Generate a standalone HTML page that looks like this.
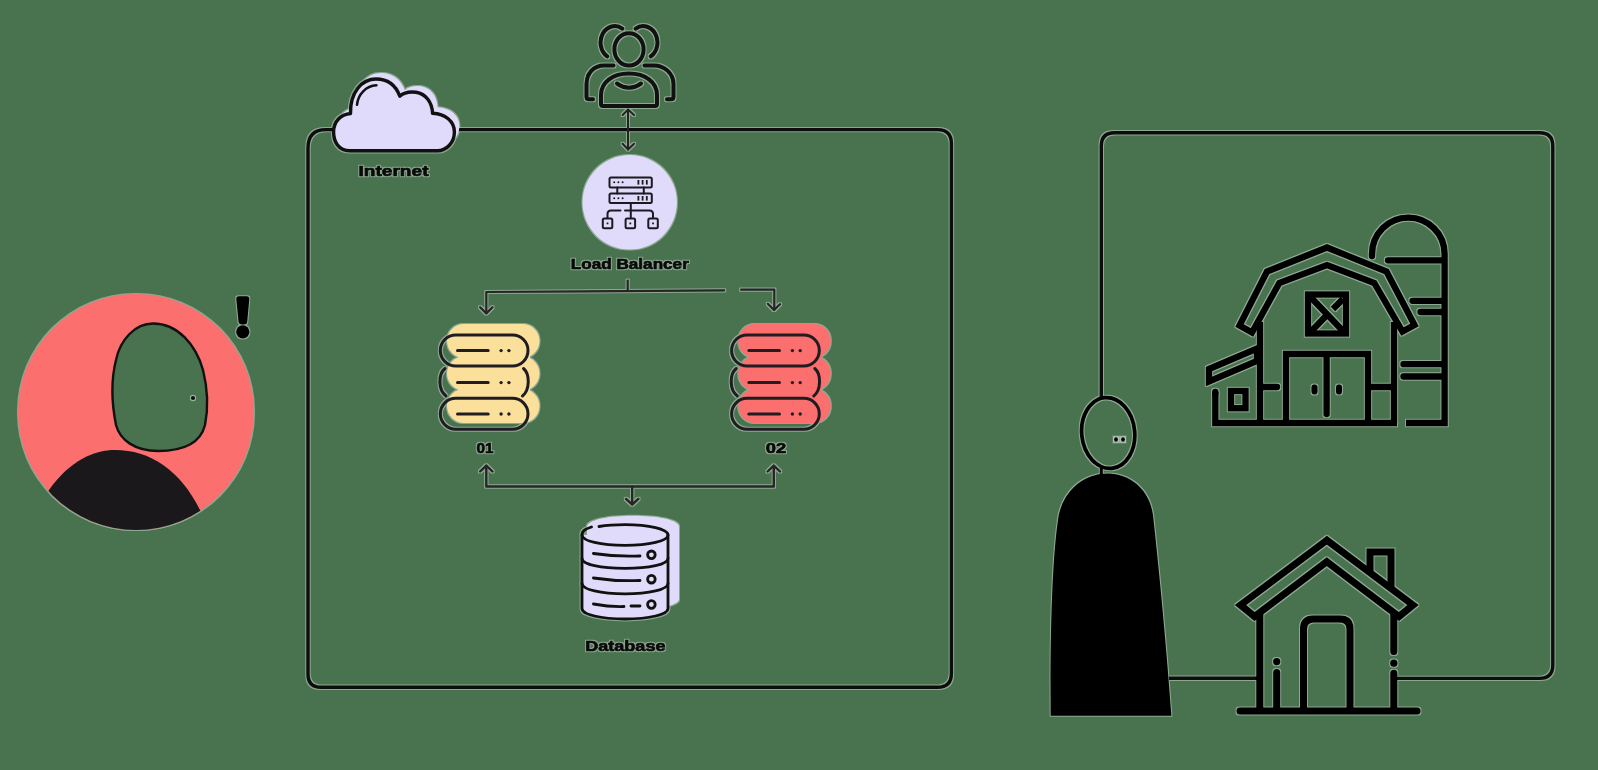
<!DOCTYPE html>
<html><head><meta charset="utf-8">
<style>
html,body{margin:0;padding:0;background:#48734e;width:1598px;height:770px;overflow:hidden}
svg{display:block}
text{font-family:"Liberation Sans",sans-serif;font-weight:bold;fill:#0a0a0a;stroke:#0a0a0a;stroke-width:0.65px}
</style></head><body>
<svg width="1598" height="770" viewBox="0 0 1598 770">
<defs><clipPath id="avc"><circle cx="136" cy="412" r="118"/></clipPath>
<filter id="h" x="0" y="0" width="1598" height="770" filterUnits="userSpaceOnUse" color-interpolation-filters="sRGB">
<feMorphology in="SourceAlpha" operator="dilate" radius="1" result="d"/>
<feFlood flood-color="#ffffff" flood-opacity="0.38" result="f"/>
<feComposite in="f" in2="d" operator="in" result="w"/>
<feMerge><feMergeNode in="w"/><feMergeNode in="SourceGraphic"/></feMerge>
</filter></defs>
<g filter="url(#h)">

<!-- ===== Left avatar ===== -->
<circle cx="136" cy="412" r="118" fill="#fb6f6e"/>
<path clip-path="url(#avc)" d="M20 540 L49 490 C70 460 95 450 115 450 C150 450 180 470 200 510 L215 540 Z" fill="#1a181b"/>
<path d="M153 323.5 C178 323.5 196 345 203 370 C208 390 208 410 205 425 C200 445 180 451 158 451 C135 451 120 440 116 425 C112 405 111 380 116 360 C120 340 135 323.5 153 323.5 Z" fill="#48734e" stroke="#111" stroke-width="2.4"/>
<circle cx="193" cy="398" r="3.2" fill="#fff" opacity="0.45"/><circle cx="193" cy="398" r="2.1" fill="#111"/>
<path d="M236.3 299 Q236.3 296.3 239 296.3 L246.6 296.3 Q249.3 296.3 249.3 299 L247.2 322 Q247 324.5 243 324.5 Q239 324.5 238.6 322 Z" fill="#000"/>
<circle cx="242.8" cy="331.8" r="6.6" fill="#000"/>

<!-- ===== Main frame ===== -->
<path d="M308 148 Q308 129.6 326 129.6 L937.4 129.6 Q951.4 129.6 951.4 143.6 L951.4 673.5 Q951.4 687.3 937.4 687.3 L321 687.3 Q308 687.3 308 674 Z" fill="none" stroke="#0d0d0d" stroke-width="3.4"/>

<!-- ===== Cloud ===== -->
<g transform="translate(5,-6)" fill="#e0dbfb">
<path d="M350 150.7 C338 150.7 333.6 141 333.6 132 C333.6 121 341 114.5 350.5 113.5 C350 92 362 79 376 79 C388 79 396 86 399.8 96.2 C404 92.5 410 91.5 416 92.3 C426 94 432 102 432.6 113.3 C445 114 454.4 121 454.4 132 C454.4 143 446 150.7 437.3 150.7 Z"/>
</g>
<path d="M350 150.7 C338 150.7 333.6 141 333.6 132 C333.6 121 341 114.5 350.5 113.5 C350 92 362 79 376 79 C388 79 396 86 399.8 96.2 C404 92.5 410 91.5 416 92.3 C426 94 432 102 432.6 113.3 C445 114 454.4 121 454.4 132 C454.4 143 446 150.7 437.3 150.7 Z" fill="#e0dbfb" stroke="#111" stroke-width="3.4" stroke-linejoin="round"/>
<path d="M357 104.8 C358 94 366 86 376.4 85.3" fill="none" stroke="#111" stroke-width="2.5" stroke-linecap="round"/>
<text x="358.5" y="175.7" font-size="15.5" textLength="70" lengthAdjust="spacingAndGlyphs">Internet</text>

<!-- ===== Users icon ===== -->
<g fill="none" stroke="#111" stroke-width="4" stroke-linecap="round" stroke-linejoin="round">
<ellipse cx="629" cy="49.4" rx="14.6" ry="16.2"/>
<path d="M601 104 L601 95 C601 82 613 73.5 629 73.5 C645 73.5 657 82 657 95 L657 104 Q657 106 655 106 L603 106 Q601 106 601 104 Z"/>
<path d="M617 83.5 Q629 92 641 83.5"/>
<path d="M622.3 28.6 A14.2 16.4 0 1 0 607.2 56.4"/>
<path d="M635.7 28.6 A14.2 16.4 0 1 1 650.8 56.4"/>
<path d="M613.5 65.5 L604 65.5 C594 65.5 586.5 73 586.5 84 L586.5 97 Q586.5 99.2 589 99.2 L593 99.2"/>
<path d="M644.5 65.5 L654 65.5 C664 65.5 673.5 73 673.5 84 L673.5 97 Q673.5 99.2 671 99.2 L667 99.2"/>
</g>
<!-- double arrow users->LB -->
<g fill="none" stroke="#222" stroke-width="2" stroke-linecap="round" stroke-linejoin="round">
<path d="M628 110 L628 149.5"/>
<path d="M622.6 115 L628 109.6 L634 115"/>
<path d="M622.6 143.8 L628 149.4 L634 143.8"/>
</g>

<!-- ===== Load balancer ===== -->
<circle cx="629.7" cy="202.3" r="47.2" fill="#e0dbfb"/>
<g fill="none" stroke="#1c1a20" stroke-width="2" stroke-linecap="round" stroke-linejoin="round">
<rect x="609.5" y="177.4" width="42.3" height="10" rx="1.5"/>
<rect x="609.5" y="193.6" width="42.3" height="9.5" rx="1.5"/>
<path d="M617.3 187.5 V193.6 M643.8 187.5 V193.6"/>
<path d="M630.8 203.2 V217.5"/>
<path d="M607.5 218 V214 Q607.5 210.4 611 210.4 H620.5 M625 210.4 H649.5 Q653 210.4 653 214 V218"/>
<rect x="602.8" y="218.6" width="9.5" height="9.6" rx="1.5"/>
<rect x="625.6" y="218.6" width="9.5" height="9.6" rx="1.5"/>
<rect x="648.3" y="218.6" width="9.5" height="9.6" rx="1.5"/>
</g>
<g fill="#1c1a20">
<circle cx="614.2" cy="182.3" r="1"/><circle cx="618.4" cy="182.3" r="1"/><circle cx="622.6" cy="182.3" r="1"/>
<rect x="637.5" y="180" width="1.8" height="4.6"/><rect x="641.7" y="180" width="1.8" height="4.6"/><rect x="645.9" y="180" width="1.8" height="4.6"/>
<circle cx="614.2" cy="198.3" r="1"/><circle cx="618.4" cy="198.3" r="1"/><circle cx="622.6" cy="198.3" r="1"/>
<rect x="637.5" y="196" width="1.8" height="4.6"/><rect x="641.7" y="196" width="1.8" height="4.6"/><rect x="645.9" y="196" width="1.8" height="4.6"/>
<rect x="606.6" y="222.5" width="1.8" height="1.8"/><rect x="629.4" y="222.5" width="1.8" height="1.8"/><rect x="652.1" y="222.5" width="1.8" height="1.8"/>
</g>
<text x="570.8" y="269.2" font-size="15.5" textLength="118" lengthAdjust="spacingAndGlyphs">Load Balancer</text>

<!-- ===== Arrows LB -> servers ===== -->
<g fill="none" stroke="#262626" stroke-width="2.2" stroke-linecap="round" stroke-linejoin="round">
<path d="M627.7 280.5 V290.5"/>
<path d="M724.2 290.3 L486.3 292 V313"/>
<path d="M480.1 307.2 L486.3 313.4 L492.5 307.2"/>
<path d="M741.1 289.7 H774.3 V309.8"/>
<path d="M767.8 303.8 L774 310 L780 304.2"/>
</g>

<!-- ===== Servers 01 ===== -->
<g id="srv">
<g fill="#fbe09b">
<rect x="447" y="324" width="92.5" height="34" rx="17"/>
<rect x="447" y="356.5" width="92.5" height="34" rx="17"/>
<rect x="447" y="389" width="92.5" height="34" rx="17"/>
<rect x="458" y="332" width="72" height="80"/>
</g>
<g fill="none" stroke="#1f1d22" stroke-width="3" stroke-linecap="round">
<rect x="440.3" y="335" width="87.7" height="31" rx="15.5"/>
<rect x="440.3" y="398.3" width="87.7" height="31" rx="15.5"/>
<path d="M445 368.5 C438 374 438 390 446 396"/>
<path d="M523.5 368.5 C530 374 530 390 522.5 396"/>
<path d="M457.5 350.6 H488.2 M457.5 382.6 H488.2 M457.5 414 H488.2"/>
</g>
<g fill="#1f1d22">
<circle cx="501.1" cy="350.6" r="1.7"/><circle cx="508.9" cy="350.6" r="1.7"/>
<circle cx="501.1" cy="382.6" r="1.7"/><circle cx="508.9" cy="382.6" r="1.7"/>
<circle cx="501.1" cy="414" r="1.7"/><circle cx="508.9" cy="414" r="1.7"/>
</g>
</g>
<text x="476.4" y="453" font-size="15" textLength="17" lengthAdjust="spacingAndGlyphs">01</text>

<!-- ===== Servers 02 ===== -->
<g transform="translate(291.3,0)">
<g fill="#fb6f6e">
<rect x="447" y="324" width="92.5" height="34" rx="17"/>
<rect x="447" y="356.5" width="92.5" height="34" rx="17"/>
<rect x="447" y="389" width="92.5" height="34" rx="17"/>
<rect x="458" y="332" width="72" height="80"/>
</g>
<g fill="none" stroke="#1f1d22" stroke-width="3" stroke-linecap="round">
<rect x="440.3" y="335" width="87.7" height="31" rx="15.5"/>
<rect x="440.3" y="398.3" width="87.7" height="31" rx="15.5"/>
<path d="M445 368.5 C438 374 438 390 446 396"/>
<path d="M523.5 368.5 C530 374 530 390 522.5 396"/>
<path d="M457.5 350.6 H488.2 M457.5 382.6 H488.2 M457.5 414 H488.2"/>
</g>
<g fill="#1f1d22">
<circle cx="501.1" cy="350.6" r="1.7"/><circle cx="508.9" cy="350.6" r="1.7"/>
<circle cx="501.1" cy="382.6" r="1.7"/><circle cx="508.9" cy="382.6" r="1.7"/>
<circle cx="501.1" cy="414" r="1.7"/><circle cx="508.9" cy="414" r="1.7"/>
</g>
</g>
<text x="765.8" y="452.8" font-size="15" textLength="20.4" lengthAdjust="spacingAndGlyphs">02</text>

<!-- ===== Arrows servers -> DB ===== -->
<g fill="none" stroke="#262626" stroke-width="2.4" stroke-linecap="round" stroke-linejoin="round">
<path d="M486.3 466 V486.5 H773.8 V466"/>
<path d="M480.1 471.5 L486.3 465.6 L492.5 471.5"/>
<path d="M767.6 471.5 L773.8 465.6 L780 471.5"/>
<path d="M632.2 486.5 V504"/>
<path d="M626 498.9 L632.2 504.5 L638.4 498.9"/>
</g>

<!-- ===== Database ===== -->
<path d="M587 527 C587 512 679 512 679 527 V599 C679 613 587 613 587 599 Z" fill="#e0dbfb"/>
<path d="M582 535 L582 608.5 C582 622 668 622 668 608.5 L668 535 Z" fill="#e0dbfb"/>
<g fill="none" stroke="#111" stroke-width="2.8" stroke-linecap="round">
<path d="M591.5 527 C586 528.5 582 531.5 582 535 C582 541 601 545.3 625 545.3 C649 545.3 668 541 668 535 C668 529 649 524.6 625 524.6 C615 524.6 606 525.3 599 526.5"/>
<path d="M582 535 V608.5 C582 614.5 601 619 625 619 C649 619 668 614.5 668 608.5 V535"/>
<path d="M582 558.5 C582 564.5 601 568.4 625 568.4 C649 568.4 668 564.5 668 558.5"/>
<path d="M582 583.5 C582 589.5 601 593.8 625 593.8 C649 593.8 668 589.5 668 583.5"/>
<path d="M593.4 553.5 Q617 557 640 556"/>
<path d="M593.4 578 Q617 581.5 640 580.5"/>
<path d="M593.4 604 Q610 607 624 606.5 M631 606 H640"/>
<circle cx="651.4" cy="554.8" r="3.8"/>
<circle cx="651.4" cy="579.2" r="3.8"/>
<circle cx="651.4" cy="604.5" r="3.8"/>
</g>
<text x="585.2" y="651.2" font-size="15" textLength="80.3" lengthAdjust="spacingAndGlyphs">Database</text>

<!-- ===== Right frame ===== -->
<path d="M1101.3 397 L1101.3 146 Q1101.3 132.8 1114.5 132.8 L1539.5 132.8 Q1552.8 132.8 1552.8 146 L1552.8 665 Q1552.8 678.4 1539.5 678.4 L1394 678.4" fill="none" stroke="#0d0d0d" stroke-width="3.4"/>
<path d="M1169 678.2 L1259 678.2" fill="none" stroke="#0d0d0d" stroke-width="3.4"/>

<!-- ===== Person ===== -->
<ellipse cx="1108.2" cy="433" rx="26.5" ry="35.5" transform="rotate(-6 1108.2 433)" fill="none" stroke="#000" stroke-width="3.7"/>
<path d="M1101.3 468 V476" stroke="#000" stroke-width="3"/>
<path d="M1107.5 473.6 C1130 473.6 1150 490 1153 515 C1158 560 1166 640 1171.4 715.7 L1050.7 715.7 C1050 640 1052 560 1058 520 C1062 490 1085 473.6 1107.5 473.6 Z" fill="#000"/>
<rect x="1113" y="436" width="13" height="7" fill="#fff" opacity="0.35"/>
<ellipse cx="1116" cy="439.5" rx="1.9" ry="2.2" fill="#000"/>
<ellipse cx="1123" cy="439.5" rx="1.9" ry="2.2" fill="#000"/>

<!-- ===== Barn ===== -->
<g fill="none" stroke="#000" stroke-width="6.3" stroke-linejoin="miter" stroke-linecap="butt">
<path d="M1252 332.5 L1239.5 325.5 L1267 271.5 L1327 247.5 L1386.5 271.5 L1414.5 325 L1402.5 331.5 L1374.3 283 L1327 265 L1279.3 283 Z"/>
<path d="M1260 322 V423 M1394 322 V423"/>
<path d="M1215.3 392 V423 H1397"/>
<path d="M1209 369 L1257 348.6 L1257 361 L1209 381.4 Z"/>
<rect x="1231" y="391" width="14.5" height="17.2"/>
<rect x="1308" y="294.5" width="38" height="39"/>
<path d="M1311 297.5 L1343 331 M1326 316 L1311 331.5 M1333 309 L1343 299"/>
<path d="M1286 423 V354 H1368 V423"/>
<path d="M1372 254 A36.2 36.2 0 0 1 1444.6 254 V423 H1406"/>
</g>
<g fill="none" stroke="#000" stroke-width="6.3" stroke-linecap="round">
<path d="M1326.6 357 V414"/>
<path d="M1263 387 H1277 M1371 387 H1391"/>
<path d="M1388 260.3 H1441 M1412.5 300.8 H1441 M1420.5 312 H1441 M1403.5 364.2 H1441 M1403.5 376.5 H1441"/>
<path d="M1372 254 V256" />
</g>
<path d="M1215.3 392 V394" stroke="#000" stroke-width="6.3" stroke-linecap="round"/>
<g fill="#000">
<rect x="1311.5" y="384.5" width="6" height="10" rx="3"/>
<rect x="1336" y="384.5" width="6" height="10" rx="3"/>
</g>

<!-- ===== House ===== -->
<g fill="none" stroke="#000" stroke-width="7" stroke-linejoin="miter" stroke-linecap="butt">
<path d="M1326.8 540.2 L1240.5 605 L1254.5 616.5 L1326.8 561.7 L1399 616.5 L1413 605 Z"/>
<path d="M1370 574 V552 H1391 V589"/>
<path d="M1259.8 614 V711 M1303.5 711 V629 Q1303.5 619 1313.5 619 H1340 Q1350 619 1350 629 V711"/>
</g>
<g fill="none" stroke="#000" stroke-width="7" stroke-linecap="round">
<path d="M1393.8 614 V651.5 M1393.8 673.3 V709"/>
<path d="M1276.7 672.5 V709"/>
<path d="M1240 711 H1417"/>
</g>
<circle cx="1276.7" cy="661.6" r="3.6" fill="#000"/>
<circle cx="1393.8" cy="663.2" r="3.6" fill="#000"/>
</g>
</svg>
</body></html>
